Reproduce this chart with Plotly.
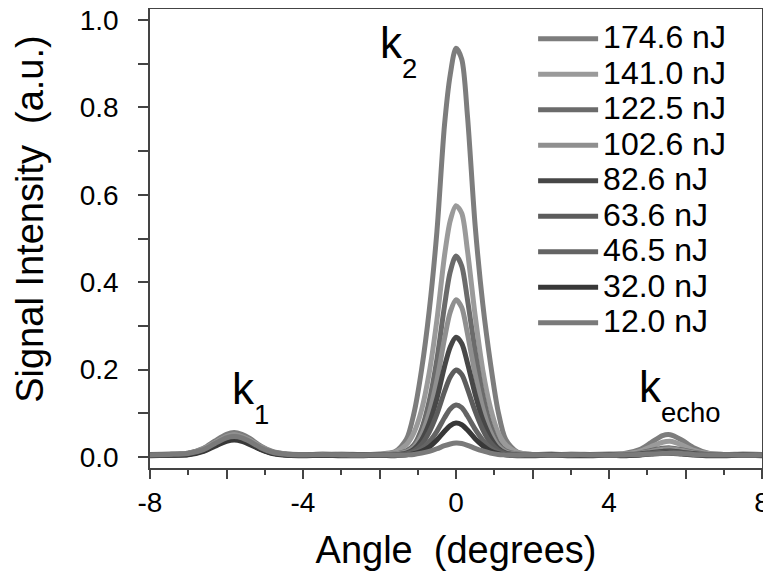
import plotly.graph_objects as go

ANGLE = [-8.0, -7.5, -7.0, -6.6, -6.3, -6.0, -5.8, -5.6, -5.4, -5.1,
         -4.8, -4.4, -4.0, -3.5, -3.0, -2.5, -2.0, -1.6, -1.3, -1.1,
         -0.9, -0.7, -0.5, -0.3, -0.15, 0.0, 0.15, 0.3, 0.5, 0.7,
         0.9, 1.1, 1.3, 1.6, 2.0, 2.5, 3.0, 3.5, 4.0, 4.4,
         4.8, 5.1, 5.4, 5.6, 5.9, 6.2, 6.6, 7.0, 7.5, 8.0]

S174_6 = [0.006, 0.007, 0.009, 0.020, 0.037, 0.052, 0.056, 0.052, 0.043, 0.025,
          0.013, 0.007, 0.005, 0.007, 0.006, 0.005, 0.007, 0.012, 0.040, 0.100,
          0.200, 0.335, 0.515, 0.760, 0.875, 0.935, 0.910, 0.780, 0.530, 0.350,
          0.215, 0.105, 0.040, 0.012, 0.006, 0.007, 0.005, 0.006, 0.007, 0.008,
          0.017, 0.033, 0.049, 0.051, 0.039, 0.022, 0.009, 0.006, 0.007, 0.006]
S141_0 = [0.005, 0.006, 0.009, 0.019, 0.033, 0.047, 0.051, 0.047, 0.039, 0.023,
          0.012, 0.007, 0.006, 0.005, 0.007, 0.006, 0.006, 0.011, 0.028, 0.056,
          0.108, 0.193, 0.313, 0.461, 0.541, 0.575, 0.558, 0.472, 0.324, 0.199,
          0.113, 0.056, 0.028, 0.011, 0.006, 0.005, 0.007, 0.006, 0.005, 0.007,
          0.013, 0.024, 0.034, 0.036, 0.028, 0.016, 0.008, 0.006, 0.005, 0.006]
S122_5 = [0.006, 0.005, 0.008, 0.017, 0.030, 0.043, 0.046, 0.043, 0.035, 0.021,
          0.011, 0.006, 0.005, 0.006, 0.005, 0.006, 0.005, 0.007, 0.014, 0.028,
          0.064, 0.128, 0.223, 0.346, 0.424, 0.460, 0.437, 0.360, 0.242, 0.142,
          0.073, 0.032, 0.014, 0.007, 0.005, 0.006, 0.005, 0.006, 0.005, 0.006,
          0.009, 0.015, 0.020, 0.021, 0.017, 0.011, 0.006, 0.005, 0.006, 0.005]
S102_6 = [0.005, 0.006, 0.009, 0.018, 0.032, 0.046, 0.050, 0.046, 0.037, 0.022,
          0.011, 0.006, 0.006, 0.005, 0.006, 0.005, 0.006, 0.007, 0.012, 0.023,
          0.051, 0.101, 0.175, 0.271, 0.332, 0.360, 0.342, 0.282, 0.190, 0.112,
          0.058, 0.026, 0.012, 0.007, 0.006, 0.005, 0.006, 0.005, 0.006, 0.006,
          0.009, 0.013, 0.018, 0.019, 0.015, 0.010, 0.006, 0.005, 0.006, 0.005]
S82_6 = [0.004, 0.005, 0.006, 0.015, 0.027, 0.039, 0.042, 0.039, 0.032, 0.018,
         0.009, 0.005, 0.004, 0.005, 0.004, 0.005, 0.004, 0.005, 0.009, 0.018,
         0.039, 0.077, 0.134, 0.207, 0.252, 0.274, 0.260, 0.215, 0.144, 0.085,
         0.045, 0.020, 0.009, 0.005, 0.004, 0.005, 0.004, 0.005, 0.004, 0.004,
         0.007, 0.010, 0.013, 0.014, 0.011, 0.008, 0.005, 0.004, 0.005, 0.004]
S63_6 = [0.005, 0.004, 0.007, 0.015, 0.028, 0.041, 0.044, 0.041, 0.033, 0.019,
         0.009, 0.005, 0.004, 0.005, 0.004, 0.004, 0.005, 0.005, 0.008, 0.014,
         0.029, 0.057, 0.098, 0.150, 0.183, 0.199, 0.189, 0.156, 0.105, 0.063,
         0.033, 0.016, 0.008, 0.005, 0.004, 0.005, 0.004, 0.004, 0.005, 0.004,
         0.006, 0.009, 0.011, 0.012, 0.010, 0.007, 0.005, 0.004, 0.004, 0.005]
S46_5 = [0.004, 0.005, 0.006, 0.014, 0.027, 0.039, 0.042, 0.039, 0.031, 0.018,
         0.009, 0.005, 0.004, 0.004, 0.005, 0.004, 0.004, 0.005, 0.006, 0.011,
         0.019, 0.035, 0.059, 0.090, 0.110, 0.119, 0.113, 0.094, 0.064, 0.039,
         0.021, 0.011, 0.006, 0.005, 0.004, 0.004, 0.005, 0.004, 0.004, 0.004,
         0.005, 0.008, 0.010, 0.010, 0.008, 0.006, 0.004, 0.004, 0.005, 0.004]
S32_0 = [0.003, 0.004, 0.005, 0.013, 0.025, 0.036, 0.039, 0.036, 0.029, 0.017,
         0.008, 0.004, 0.003, 0.004, 0.003, 0.003, 0.004, 0.003, 0.005, 0.008,
         0.013, 0.023, 0.039, 0.059, 0.072, 0.078, 0.074, 0.062, 0.042, 0.026,
         0.014, 0.008, 0.005, 0.003, 0.003, 0.004, 0.003, 0.003, 0.004, 0.003,
         0.005, 0.007, 0.009, 0.009, 0.007, 0.005, 0.003, 0.003, 0.004, 0.003]
S12_0 = [0.005, 0.006, 0.008, 0.017, 0.031, 0.044, 0.047, 0.044, 0.036, 0.021,
         0.011, 0.006, 0.005, 0.006, 0.005, 0.004, 0.005, 0.004, 0.005, 0.006,
         0.009, 0.013, 0.019, 0.026, 0.030, 0.032, 0.031, 0.027, 0.020, 0.014,
         0.009, 0.006, 0.005, 0.004, 0.005, 0.004, 0.005, 0.005, 0.004, 0.005,
         0.006, 0.007, 0.008, 0.009, 0.008, 0.006, 0.005, 0.005, 0.004, 0.005]

LABELS = ["174.6 nJ", "141.0 nJ", "122.5 nJ", "102.6 nJ", "82.6 nJ",
          "63.6 nJ", "46.5 nJ", "32.0 nJ", "12.0 nJ"]
SERIES = [S174_6, S141_0, S122_5, S102_6, S82_6, S63_6, S46_5, S32_0, S12_0]
COLORS = ["#7d7d7d", "#9a9a9a", "#6b6b6b", "#8f8f8f", "#474747",
          "#5c5c5c", "#646464", "#383838", "#7a7a7a"]

X_TICKS = [-8, -6, -4, -2, 0, 2, 4, 6, 8]
X_TICKTEXT = ["-8", "", "-4", "", "0", "", "4", "", "8"]
Y_TICKS = [0.0, 0.1, 0.2, 0.3, 0.4, 0.5, 0.6, 0.7, 0.8, 0.9, 1.0]
Y_TICKTEXT = ["0.0", "", "0.2", "", "0.4", "", "0.6", "", "0.8", "", "1.0"]
X_TITLE = "Angle  (degrees)"
Y_TITLE = "Signal Intensity  (a.u.)"
PEAK_LABELS = [("2", -2.03, 0.93), ("1", -5.92, 0.138), ("echo", 4.72, 0.141)]

FONT = "Liberation Sans, Arial, Helvetica, sans-serif"

fig = go.Figure()
for name, ys, col in zip(LABELS, SERIES, COLORS):
    fig.add_trace(go.Scatter(
        x=ANGLE, y=ys, mode="lines", name='<span style="font-size:32px">' + name + '</span>',
        line=dict(color=col, width=5, shape="spline", smoothing=0.8),
    ))

axis_line = "#444444"
fig.update_layout(
    width=763, height=568,
    margin=dict(l=142, r=9, t=1, b=108),
    paper_bgcolor="white", plot_bgcolor="white",
    font=dict(family=FONT, color="black"),
    showlegend=True,
    legend=dict(x=0.626, xanchor="left", y=0.985, yanchor="top",
                font=dict(size=25, family=FONT, color="black"),
                itemwidth=60, bgcolor="rgba(0,0,0,0)", borderwidth=0,
                tracegroupgap=0),
    xaxis=dict(range=[-8, 8], tickmode="array", tickvals=X_TICKS, ticktext=X_TICKTEXT,
               ticks="outside", ticklen=9, tickwidth=1.5, tickcolor=axis_line,
               minor=dict(dtick=1, ticks="outside", ticklen=5, tickwidth=1.5, tickcolor=axis_line),
               showline=True, linecolor=axis_line, linewidth=1.5, mirror=True,
               showgrid=False, zeroline=False, automargin=False, ticklabeloverflow="allow",
               tickfont=dict(size=28, family=FONT),
               title=dict(text=X_TITLE, font=dict(size=38, family=FONT), standoff=19)),
    yaxis=dict(range=[-0.025, 1.025], tickmode="array", tickvals=Y_TICKS, ticktext=Y_TICKTEXT,
               ticks="outside", ticklen=10, tickwidth=1.5, tickcolor=axis_line,
               showline=True, linecolor=axis_line, linewidth=1.5, mirror=True,
               showgrid=False, zeroline=False, automargin=False, ticklabeloverflow="allow",
               tickfont=dict(size=28, family=FONT), ticklabelstandoff=14),
)

fig.add_annotation(x=-0.196, y=0.543, xref="paper", yref="paper", text=Y_TITLE,
                   textangle=-90, showarrow=False, xanchor="center", yanchor="middle",
                   font=dict(size=38, family=FONT, color="black"))

for sub, ax, ay in PEAK_LABELS:
    fig.add_annotation(x=ax, y=ay, xref="x", yref="y",
                       text='<span style="font-size:44px">k</span><sub><sub>' + sub + '</sub></sub>',
                       showarrow=False, xanchor="left", yanchor="middle",
                       font=dict(size=56, family=FONT, color="black"))

fig.write_html("out.html")
